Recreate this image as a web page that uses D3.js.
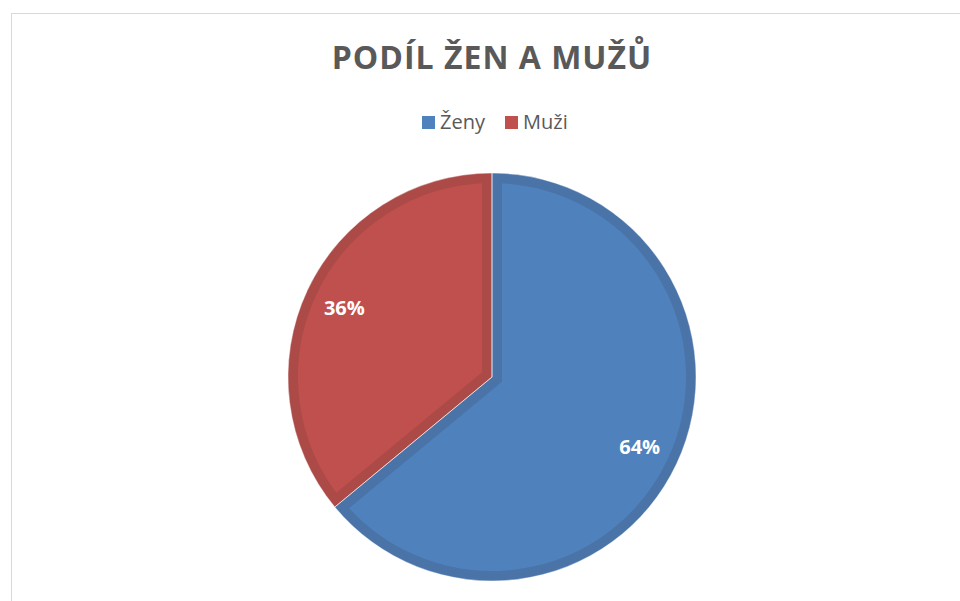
<!DOCTYPE html>
<html>
<head>
<meta charset="utf-8">
<script src="https://cdn.jsdelivr.net/npm/d3@7"></script>
<style>
  body { margin: 0; background: #fff; }
  svg { display: block; }
</style>
</head>
<body>
<div id="chart"></div>
<script>
var chartTitle = "PODÍL ŽEN A MUŽŮ";
var categories = ["Ženy", "Muži"];
var values = [64, 36];
var fillColors = ["#4F81BD", "#C0504D"];
var edgeColors = ["#4A73A8", "#AC4A47"];

var width = 960, height = 601;
var cx = 492, cy = 377, radius = 204;

var svg = d3.select("#chart").append("svg")
  .attr("width", width)
  .attr("height", height);

// chart area frame
svg.append("rect")
  .attr("x", 11.5).attr("y", 13.5)
  .attr("width", 980).attr("height", 620)
  .attr("fill", "#fff")
  .attr("stroke", "#D9D9D9");

svg.append("text")
  .attr("x", cx).attr("y", 69)
  .attr("text-anchor", "middle")
  .style("font-family", "'Open Sans', sans-serif")
  .style("font-weight", "bold")
  .style("font-size", "32px")
  .style("letter-spacing", "1px")
  .attr("fill", "#595959")
  .text(chartTitle);

// legend
var legendX = [422, 505];
var legend = svg.selectAll(".legend")
  .data(categories)
  .join("g")
  .attr("class", "legend")
  .attr("transform", (d, i) => "translate(" + legendX[i] + ",116)");

legend.append("rect")
  .attr("width", 13).attr("height", 13)
  .attr("fill", (d, i) => fillColors[i]);

legend.append("text")
  .attr("x", 18).attr("y", 13)
  .style("font-family", "'Open Sans', sans-serif")
  .style("font-size", "20px")
  .attr("fill", "#595959")
  .text(d => d);

var pie = d3.pie().sort(null).value(d => d);
var arcs = pie(values);
var arc = d3.arc().innerRadius(0).outerRadius(radius);
var labelArc = d3.arc().innerRadius(radius * 0.8).outerRadius(radius * 0.8);

var g = svg.append("g").attr("transform", "translate(" + cx + "," + cy + ")");

var defs = svg.append("defs");
arcs.forEach(function (a, i) {
  defs.append("clipPath").attr("id", "clip" + i)
    .append("path").attr("d", arc(a));
});

g.selectAll(".slice")
  .data(arcs)
  .join("path")
  .attr("class", "slice")
  .attr("d", arc)
  .attr("fill", (d, i) => fillColors[i])
  .attr("stroke", (d, i) => edgeColors[i])
  .attr("stroke-width", 20)
  .attr("clip-path", (d, i) => "url(#clip" + i + ")");

// thin separation between slices
g.selectAll(".sep")
  .data(arcs)
  .join("path")
  .attr("class", "sep")
  .attr("d", arc)
  .attr("fill", "none")
  .attr("stroke", "#fff")
  .attr("stroke-opacity", 0.5)
  .attr("stroke-width", 1);

g.selectAll(".label")
  .data(arcs)
  .join("text")
  .attr("class", "label")
  .attr("transform", d => "translate(" + labelArc.centroid(d) + ")")
  .attr("text-anchor", "middle")
  .attr("dy", "0.36em")
  .style("font-family", "'Open Sans', sans-serif")
  .style("font-weight", "bold")
  .style("font-size", "20px")
  .attr("fill", "#fff")
  .text(d => d.data + "%");
</script>
</body>
</html>
